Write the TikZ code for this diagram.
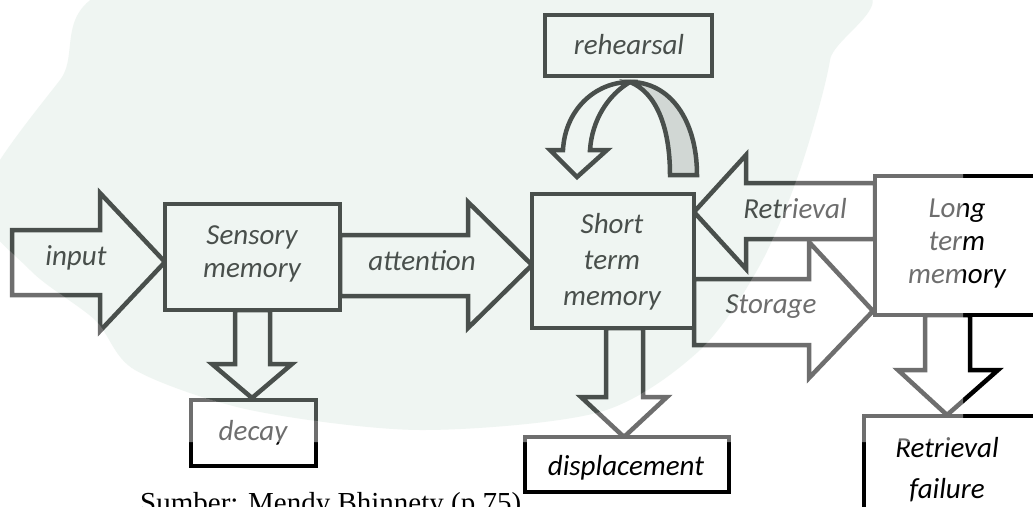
\documentclass[tikz,border=0pt]{standalone}
\usepackage{fontspec}
\setmainfont{Carlito}
\newfontfamily\capfont{Liberation Serif}
\definecolor{mint}{RGB}{210,228,218}
\definecolor{backgray}{RGB}{209,209,209}
\begin{document}
\begin{tikzpicture}[x=1pt,y=-1pt,
  ln/.style={draw=black,line width=4.5pt,line join=miter,miter limit=10,fill=white},
  boxn/.style={ln,rectangle,inner sep=0pt},
  lbl/.style={font=\fontsize{29}{35}\selectfont\itshape,anchor=base,inner sep=0pt,text=black}]
\useasboundingbox (0,0) rectangle (1033,506);
\clip (0,0) rectangle (1033,506);
\fill[white] (0,0) rectangle (1033,506);

% block arrows
\draw[ln] (12,230) -- (100,230) -- (100,193) -- (165,262) -- (100,331) -- (100,295) -- (12,295) -- cycle;
\draw[ln] (340,235) -- (468,235) -- (468,202) -- (532,265) -- (468,328) -- (468,296) -- (340,296) -- cycle;
\draw[ln] (235,310) -- (235,364) -- (212,364) -- (252,398) -- (292,364) -- (270,364) -- (270,310) -- cycle;
\draw[ln] (606,328) -- (606,397) -- (581,397) -- (624,437) -- (667,397) -- (643,397) -- (643,328) -- cycle;
\draw[ln] (694,279) -- (809,279) -- (809,242) -- (873,311) -- (809,378) -- (809,345) -- (694,345) -- cycle;
\draw[ln] (875,183) -- (746,183) -- (746,155) -- (694,212) -- (746,269) -- (746,239) -- (875,239) -- cycle;
\draw[ln] (925,315) -- (925,370) -- (898,370) -- (947,415) -- (998,370) -- (970,370) -- (970,315) -- cycle;

% curved rehearsal arrow
\draw[ln,fill=backgray] (670,175) -- (697,175) .. controls (697,120) and (670,82) .. (630,82)
   .. controls (655,92) and (670,125) .. (670,175) -- cycle;
\draw[ln] (630,82) .. controls (595,82) and (565,110) .. (563,150) -- (550,150) -- (577,177)
   -- (607,150) -- (590,150) .. controls (592,120) and (608,95) .. (630,82) -- cycle;

% boxes
\node[boxn,minimum width=175pt,minimum height=106pt] (sm) at (252.5,257) {};
\node[boxn,minimum width=162pt,minimum height=134pt] (stm) at (613,261) {};
\node[boxn,minimum width=167pt,minimum height=61pt] (reh) at (628.5,45.5) {};
\node[boxn,minimum width=125pt,minimum height=66pt] (dec) at (253.5,433) {};
\node[boxn,minimum width=204pt,minimum height=55pt] (disp) at (627,464.5) {};
\node[boxn,minimum width=165pt,minimum height=139pt] (ltm) at (957.5,245.5) {};
\node[boxn,minimum width=198pt,minimum height=124pt] (rf) at (963,478) {};

% labels
\node[lbl] (tin) at (76,265) {input};
\node[lbl] (tsm1) at (252,244) {Sensory};
\node[lbl] (tsm2) at (252,277) {memory};
\node[lbl] (tatt) at (422,270) {attention};
\node[lbl] (tstm1) at (612,233) {Short};
\node[lbl] (tstm2) at (612,269) {term};
\node[lbl] (tstm3) at (612,305) {memory};
\node[lbl] (treh) at (629,54) {rehearsal};
\node[lbl] (tdec) at (253,440) {decay};
\node[lbl] (tret) at (795,218) {Retrieval};
\node[lbl] (tsto) at (771,313) {Storage};
\node[lbl] (tltm1) at (957,217) {Long};
\node[lbl] (tltm2) at (957,250) {term};
\node[lbl] (tltm3) at (957,283) {memory};
\node[lbl] (tdisp) at (626,475) {displacement};
\node[lbl] (trf1) at (947,457) {Retrieval};
\node[lbl] (trf2) at (947,498) {failure};

\node[font=\capfont\fontsize{29}{35}\selectfont,anchor=base west,inner sep=0pt] (src) at (140,512) {Sumber: Mendy Bhinnety (p.75)};

% watermark wash
\fill[white,opacity=0.43,even odd rule] (-10,-10) rectangle (963,442)
  plot[smooth cycle] coordinates {(150,-20) (60,80) (-20,200) (30,270) (95,320) (135,370) (250,410) (420,430) (600,412) (700,350) (760,265) (800,170) (830,60) (830,-20)};
\fill[mint,opacity=0.35]
  plot[smooth cycle] coordinates {(150,-20) (60,80) (-20,200) (30,270) (95,320) (135,370) (250,410) (420,430) (600,412) (700,350) (760,265) (800,170) (830,60) (830,-20)};
\end{tikzpicture}
\end{document}
